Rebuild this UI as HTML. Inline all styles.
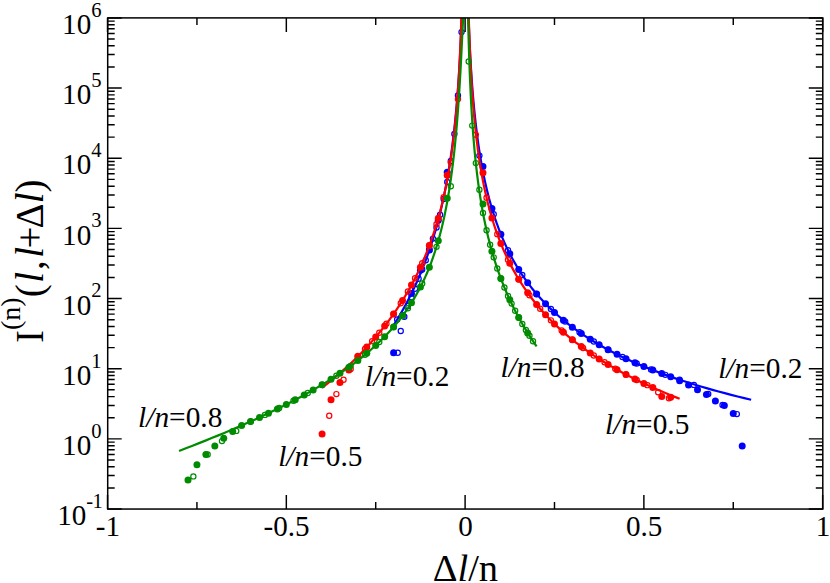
<!DOCTYPE html>
<html><head><meta charset="utf-8"><title>plot</title>
<style>
html,body{margin:0;padding:0;background:#fff;}
body{width:830px;height:583px;overflow:hidden;}
svg{display:block;}
text{font-family:"Liberation Serif",serif;fill:#000;}
</style></head><body>
<svg width="830" height="583" viewBox="0 0 830 583">
<rect x="0" y="0" width="830" height="583" fill="#fff"/>
<defs><clipPath id="cp"><rect x="107.70" y="17.90" width="715.10" height="491.15"/></clipPath></defs>
<g clip-path="url(#cp)">
<g><circle cx="393.59" cy="352.80" r="3.50" fill="#0000ff"/>
<circle cx="402.53" cy="315.50" r="3.50" fill="#0000ff"/>
<circle cx="411.47" cy="293.48" r="3.50" fill="#0000ff"/>
<circle cx="420.41" cy="270.30" r="3.50" fill="#0000ff"/>
<circle cx="429.35" cy="250.12" r="3.50" fill="#0000ff"/>
<circle cx="438.28" cy="220.20" r="3.50" fill="#0000ff"/>
<circle cx="447.22" cy="172.20" r="3.50" fill="#0000ff"/>
<circle cx="482.98" cy="166.60" r="3.50" fill="#0000ff"/>
<circle cx="491.92" cy="208.51" r="3.50" fill="#0000ff"/>
<circle cx="500.86" cy="234.16" r="3.50" fill="#0000ff"/>
<circle cx="509.79" cy="253.75" r="3.50" fill="#0000ff"/>
<circle cx="518.73" cy="269.53" r="3.50" fill="#0000ff"/>
<circle cx="527.67" cy="282.68" r="3.50" fill="#0000ff"/>
<circle cx="536.61" cy="293.93" r="3.50" fill="#0000ff"/>
<circle cx="545.55" cy="303.73" r="3.50" fill="#0000ff"/>
<circle cx="554.49" cy="312.40" r="3.50" fill="#0000ff"/>
<circle cx="563.43" cy="320.15" r="3.50" fill="#0000ff"/>
<circle cx="572.37" cy="327.14" r="3.50" fill="#0000ff"/>
<circle cx="581.30" cy="333.51" r="3.50" fill="#0000ff"/>
<circle cx="590.24" cy="339.34" r="3.50" fill="#0000ff"/>
<circle cx="599.18" cy="344.72" r="3.50" fill="#0000ff"/>
<circle cx="608.12" cy="349.70" r="3.50" fill="#0000ff"/>
<circle cx="617.06" cy="354.33" r="3.50" fill="#0000ff"/>
<circle cx="626.00" cy="358.66" r="3.50" fill="#0000ff"/>
<circle cx="634.94" cy="362.71" r="3.50" fill="#0000ff"/>
<circle cx="643.88" cy="366.53" r="3.50" fill="#0000ff"/>
<circle cx="652.81" cy="370.12" r="3.50" fill="#0000ff"/>
<circle cx="661.75" cy="373.52" r="3.50" fill="#0000ff"/>
<circle cx="670.69" cy="376.74" r="3.50" fill="#0000ff"/>
<circle cx="679.63" cy="380.80" r="3.50" fill="#0000ff"/>
<circle cx="688.57" cy="384.90" r="3.50" fill="#0000ff"/>
<circle cx="697.51" cy="389.80" r="3.50" fill="#0000ff"/>
<circle cx="706.45" cy="394.60" r="3.50" fill="#0000ff"/>
<circle cx="715.38" cy="401.10" r="3.50" fill="#0000ff"/>
<circle cx="724.32" cy="405.50" r="3.50" fill="#0000ff"/>
<circle cx="733.26" cy="413.50" r="3.50" fill="#0000ff"/>
<circle cx="742.20" cy="446.00" r="3.50" fill="#0000ff"/>
<circle cx="397.17" cy="319.49" r="2.60" fill="none" stroke="#0000ff" stroke-width="1.2"/>
<circle cx="397.70" cy="352.80" r="2.60" fill="none" stroke="#0000ff" stroke-width="1.2"/>
<circle cx="400.74" cy="331.00" r="2.60" fill="none" stroke="#0000ff" stroke-width="1.2"/>
<circle cx="404.32" cy="316.80" r="2.60" fill="none" stroke="#0000ff" stroke-width="1.2"/>
<circle cx="407.89" cy="306.00" r="2.60" fill="none" stroke="#0000ff" stroke-width="1.2"/>
<circle cx="411.47" cy="297.30" r="2.60" fill="none" stroke="#0000ff" stroke-width="1.2"/>
<circle cx="415.04" cy="288.70" r="2.60" fill="none" stroke="#0000ff" stroke-width="1.2"/>
<circle cx="418.62" cy="278.70" r="2.60" fill="none" stroke="#0000ff" stroke-width="1.2"/>
<circle cx="422.19" cy="269.50" r="2.60" fill="none" stroke="#0000ff" stroke-width="1.2"/>
<circle cx="425.77" cy="260.20" r="2.60" fill="none" stroke="#0000ff" stroke-width="1.2"/>
<circle cx="429.35" cy="250.00" r="2.60" fill="none" stroke="#0000ff" stroke-width="1.2"/>
<circle cx="432.92" cy="238.60" r="2.60" fill="none" stroke="#0000ff" stroke-width="1.2"/>
<circle cx="436.50" cy="227.50" r="2.60" fill="none" stroke="#0000ff" stroke-width="1.2"/>
<circle cx="440.07" cy="214.70" r="2.60" fill="none" stroke="#0000ff" stroke-width="1.2"/>
<circle cx="443.65" cy="199.00" r="2.60" fill="none" stroke="#0000ff" stroke-width="1.2"/>
<circle cx="447.22" cy="182.00" r="2.60" fill="none" stroke="#0000ff" stroke-width="1.2"/>
<circle cx="450.80" cy="161.00" r="2.60" fill="none" stroke="#0000ff" stroke-width="1.2"/>
<circle cx="454.37" cy="133.90" r="2.60" fill="none" stroke="#0000ff" stroke-width="1.2"/>
<circle cx="457.95" cy="95.50" r="2.60" fill="none" stroke="#0000ff" stroke-width="1.2"/>
<circle cx="461.52" cy="32.10" r="2.60" fill="none" stroke="#0000ff" stroke-width="1.2"/>
<circle cx="479.40" cy="155.60" r="2.60" fill="none" stroke="#0000ff" stroke-width="1.2"/>
<circle cx="493.70" cy="214.30" r="2.60" fill="none" stroke="#0000ff" stroke-width="1.2"/>
<circle cx="508.01" cy="250.19" r="2.60" fill="none" stroke="#0000ff" stroke-width="1.2"/>
<circle cx="522.31" cy="275.06" r="2.60" fill="none" stroke="#0000ff" stroke-width="1.2"/>
<circle cx="536.61" cy="293.93" r="2.60" fill="none" stroke="#0000ff" stroke-width="1.2"/>
<circle cx="550.91" cy="309.05" r="2.60" fill="none" stroke="#0000ff" stroke-width="1.2"/>
<circle cx="565.21" cy="321.60" r="2.60" fill="none" stroke="#0000ff" stroke-width="1.2"/>
<circle cx="579.52" cy="332.28" r="2.60" fill="none" stroke="#0000ff" stroke-width="1.2"/>
<circle cx="593.82" cy="341.55" r="2.60" fill="none" stroke="#0000ff" stroke-width="1.2"/>
<circle cx="608.12" cy="349.70" r="2.60" fill="none" stroke="#0000ff" stroke-width="1.2"/>
<circle cx="622.42" cy="356.96" r="2.60" fill="none" stroke="#0000ff" stroke-width="1.2"/>
<circle cx="636.72" cy="363.50" r="2.60" fill="none" stroke="#0000ff" stroke-width="1.2"/>
<circle cx="651.03" cy="369.42" r="2.60" fill="none" stroke="#0000ff" stroke-width="1.2"/>
<circle cx="665.33" cy="374.83" r="2.60" fill="none" stroke="#0000ff" stroke-width="1.2"/>
<circle cx="679.63" cy="379.79" r="2.60" fill="none" stroke="#0000ff" stroke-width="1.2"/>
<circle cx="693.93" cy="384.90" r="2.60" fill="none" stroke="#0000ff" stroke-width="1.2"/>
<circle cx="708.23" cy="393.90" r="2.60" fill="none" stroke="#0000ff" stroke-width="1.2"/>
<circle cx="722.54" cy="404.90" r="2.60" fill="none" stroke="#0000ff" stroke-width="1.2"/>
<circle cx="736.84" cy="414.10" r="2.60" fill="none" stroke="#0000ff" stroke-width="1.2"/>
<path d="M393.59,325.21 L394.86,323.22 L396.10,321.22 L397.32,319.23 L398.52,317.25 L399.70,315.27 L400.86,313.29 L402.00,311.31 L403.11,309.34 L404.21,307.37 L405.29,305.41 L406.35,303.44 L407.39,301.48 L408.41,299.53 L409.41,297.58 L410.40,295.63 L411.37,293.68 L412.32,291.74 L413.25,289.80 L414.17,287.86 L415.07,285.93 L415.96,284.00 L416.83,282.07 L417.68,280.15 L418.52,278.23 L419.35,276.31 L420.16,274.39 L420.95,272.48 L421.73,270.57 L422.50,268.66 L423.26,266.76 L424.00,264.86 L424.72,262.96 L425.44,261.07 L426.14,259.17 L426.83,257.28 L427.51,255.40 L428.17,253.51 L428.83,251.63 L429.47,249.75 L430.10,247.88 L430.72,246.00 L431.33,244.13 L431.93,242.26 L432.51,240.40 L433.09,238.53 L433.66,236.67 L434.21,234.81 L434.76,232.96 L435.30,231.10 L435.83,229.25 L436.34,227.40 L436.85,225.56 L437.35,223.71 L437.85,221.87 L438.33,220.03 L438.80,218.19 L439.27,216.36 L439.72,214.53 L440.17,212.70 L440.62,210.87 L441.05,209.04 L441.47,207.22 L441.89,205.39 L442.30,203.57 L442.71,201.76 L443.10,199.94 L443.49,198.13 L443.88,196.31 L444.25,194.50 L444.62,192.70 L444.98,190.89 L445.34,189.09 L445.69,187.28 L446.03,185.48 L446.37,183.68 L446.70,181.89 L447.03,180.09 L447.35,178.30 L447.66,176.51 L447.97,174.72 L448.27,172.93 L448.57,171.14 L448.86,169.36 L449.15,167.57 L449.43,165.79 L449.71,164.01 L449.98,162.23 L450.25,160.45 L450.51,158.68 L450.77,156.90 L451.03,155.13 L451.28,153.36 L451.52,151.59 L451.76,149.82 L452.00,148.05 L452.23,146.29 L452.46,144.52 L452.68,142.76 L452.90,141.00 L453.12,139.24 L453.33,137.48 L453.54,135.72 L453.74,133.96 L453.94,132.21 L454.14,130.45 L454.33,128.70 L454.53,126.95 L454.71,125.19 L454.90,123.44 L455.08,121.69 L455.25,119.94 L455.43,118.20 L455.60,116.45 L455.77,114.70 L455.93,112.96 L456.10,111.22 L456.25,109.47 L456.41,107.73 L456.57,105.99 L456.72,104.25 L456.86,102.51 L457.01,100.77 L457.15,99.03 L457.29,97.29 L457.43,95.55 L457.57,93.82 L457.70,92.08 L457.83,90.35 L457.96,88.61 L458.09,86.88 L458.21,85.14 L458.33,83.41 L458.45,81.68 L458.57,79.94 L458.69,78.21 L458.80,76.48 L458.91,74.75 L459.02,73.02 L459.13,71.29 L459.24,69.56 L459.34,67.83 L459.44,66.10 L459.54,64.37 L459.64,62.64 L459.74,60.91 L459.83,59.18 L459.92,57.45 L460.02,55.73 L460.11,54.00 L460.19,52.27 L460.28,50.54 L460.37,48.81 L460.45,47.08 L460.53,45.36 L460.61,43.63 L460.69,41.90 L460.77,40.17 L460.85,38.44 L460.92,36.72 L461.00,34.99 L461.07,33.26 L461.14,31.53 L461.21,29.80 L461.28,28.07 L461.35,26.34 L461.41,24.61 L461.48,22.88 L461.54,21.15 L461.61,19.42 L461.67,17.69 L461.73,15.95" fill="none" stroke="#0000ff" stroke-width="2.2"/>
<path d="M468.52,16.62 L468.60,18.93 L468.69,21.24 L468.77,23.55 L468.86,25.86 L468.96,28.17 L469.05,30.47 L469.15,32.78 L469.25,35.08 L469.35,37.38 L469.45,39.68 L469.56,41.98 L469.67,44.28 L469.78,46.58 L469.89,48.87 L470.01,51.17 L470.13,53.46 L470.26,55.75 L470.38,58.04 L470.51,60.33 L470.64,62.62 L470.78,64.91 L470.92,67.19 L471.06,69.48 L471.21,71.76 L471.36,74.04 L471.51,76.32 L471.67,78.60 L471.83,80.88 L471.99,83.16 L472.16,85.44 L472.33,87.71 L472.51,89.98 L472.69,92.26 L472.88,94.53 L473.07,96.80 L473.26,99.06 L473.46,101.33 L473.67,103.60 L473.88,105.86 L474.09,108.12 L474.31,110.38 L474.54,112.64 L474.77,114.90 L475.01,117.16 L475.25,119.42 L475.50,121.67 L475.75,123.92 L476.01,126.17 L476.28,128.42 L476.56,130.67 L476.84,132.92 L477.12,135.16 L477.42,137.40 L477.72,139.65 L478.03,141.89 L478.34,144.12 L478.67,146.36 L479.00,148.59 L479.34,150.83 L479.69,153.06 L480.05,155.29 L480.41,157.52 L480.79,159.74 L481.17,161.96 L481.57,164.19 L481.97,166.41 L482.38,168.62 L482.81,170.84 L483.24,173.05 L483.68,175.26 L484.14,177.47 L484.61,179.68 L485.08,181.89 L485.57,184.09 L486.07,186.29 L486.59,188.49 L487.11,190.68 L487.65,192.88 L488.20,195.07 L488.77,197.26 L489.35,199.44 L489.94,201.63 L490.55,203.81 L491.18,205.99 L491.81,208.17 L492.47,210.34 L493.14,212.51 L493.83,214.68 L494.53,216.84 L495.25,219.00 L495.99,221.16 L496.74,223.32 L497.52,225.47 L498.31,227.62 L499.13,229.77 L499.96,231.92 L500.81,234.06 L501.69,236.20 L502.58,238.33 L503.50,240.46 L504.44,242.59 L505.41,244.71 L506.39,246.84 L507.40,248.95 L508.44,251.07 L509.50,253.18 L510.59,255.28 L511.70,257.39 L512.84,259.49 L514.01,261.58 L515.21,263.67 L516.44,265.76 L517.69,267.85 L518.98,269.93 L520.30,272.00 L521.65,274.07 L523.04,276.14 L524.46,278.20 L525.91,280.26 L527.40,282.31 L528.93,284.36 L530.49,286.41 L532.09,288.45 L533.73,290.49 L535.41,292.52 L537.13,294.54 L538.90,296.56 L540.70,298.58 L542.56,300.59 L544.45,302.60 L546.39,304.60 L548.39,306.60 L550.43,308.59 L552.51,310.57 L554.66,312.55 L556.85,314.53 L559.10,316.50 L561.40,318.46 L563.76,320.42 L566.17,322.37 L568.65,324.31 L571.18,326.25 L573.78,328.19 L576.44,330.12 L579.17,332.04 L581.96,333.96 L584.82,335.87 L587.75,337.77 L590.76,339.67 L593.83,341.56 L596.99,343.44 L600.22,345.32 L603.53,347.19 L606.92,349.05 L610.39,350.91 L613.95,352.76 L617.59,354.60 L621.33,356.43 L625.15,358.26 L629.07,360.08 L633.09,361.90 L637.20,363.70 L641.41,365.50 L645.73,367.29 L650.16,369.07 L654.69,370.85 L659.33,372.62 L664.09,374.37 L668.96,376.13 L673.95,377.87 L679.07,379.60 L684.30,381.33 L689.67,383.05 L695.17,384.75 L700.81,386.45 L706.58,388.15 L712.49,389.83 L718.55,391.50 L724.76,393.17 L731.11,394.82 L737.63,396.47 L744.30,398.11 L751.14,399.73" fill="none" stroke="#0000ff" stroke-width="2.2"/></g>
<g><circle cx="322.08" cy="434.00" r="3.50" fill="#ff0000"/>
<circle cx="331.02" cy="399.70" r="3.50" fill="#ff0000"/>
<circle cx="339.96" cy="382.40" r="3.50" fill="#ff0000"/>
<circle cx="348.90" cy="370.00" r="3.50" fill="#ff0000"/>
<circle cx="357.84" cy="356.37" r="3.50" fill="#ff0000"/>
<circle cx="366.77" cy="347.09" r="3.50" fill="#ff0000"/>
<circle cx="375.71" cy="337.04" r="3.50" fill="#ff0000"/>
<circle cx="384.65" cy="326.07" r="3.50" fill="#ff0000"/>
<circle cx="393.59" cy="313.96" r="3.50" fill="#ff0000"/>
<circle cx="402.53" cy="300.42" r="3.50" fill="#ff0000"/>
<circle cx="411.47" cy="285.03" r="3.50" fill="#ff0000"/>
<circle cx="420.41" cy="267.13" r="3.50" fill="#ff0000"/>
<circle cx="429.35" cy="245.57" r="3.50" fill="#ff0000"/>
<circle cx="438.28" cy="218.20" r="3.50" fill="#ff0000"/>
<circle cx="447.22" cy="175.30" r="3.50" fill="#ff0000"/>
<circle cx="482.98" cy="172.80" r="3.50" fill="#ff0000"/>
<circle cx="491.92" cy="217.88" r="3.50" fill="#ff0000"/>
<circle cx="500.86" cy="243.51" r="3.50" fill="#ff0000"/>
<circle cx="509.79" cy="263.23" r="3.50" fill="#ff0000"/>
<circle cx="518.73" cy="279.26" r="3.50" fill="#ff0000"/>
<circle cx="527.67" cy="292.77" r="3.50" fill="#ff0000"/>
<circle cx="536.61" cy="304.44" r="3.50" fill="#ff0000"/>
<circle cx="545.55" cy="314.72" r="3.50" fill="#ff0000"/>
<circle cx="554.49" cy="323.89" r="3.50" fill="#ff0000"/>
<circle cx="563.43" cy="332.16" r="3.50" fill="#ff0000"/>
<circle cx="572.37" cy="339.70" r="3.50" fill="#ff0000"/>
<circle cx="581.30" cy="346.62" r="3.50" fill="#ff0000"/>
<circle cx="590.24" cy="353.01" r="3.50" fill="#ff0000"/>
<circle cx="599.18" cy="358.94" r="3.50" fill="#ff0000"/>
<circle cx="608.12" cy="364.47" r="3.50" fill="#ff0000"/>
<circle cx="617.06" cy="369.65" r="3.50" fill="#ff0000"/>
<circle cx="626.00" cy="374.53" r="3.50" fill="#ff0000"/>
<circle cx="634.94" cy="379.12" r="3.50" fill="#ff0000"/>
<circle cx="643.88" cy="383.46" r="3.50" fill="#ff0000"/>
<circle cx="652.81" cy="387.58" r="3.50" fill="#ff0000"/>
<circle cx="661.75" cy="396.50" r="3.50" fill="#ff0000"/>
<circle cx="670.69" cy="397.30" r="3.50" fill="#ff0000"/>
<circle cx="329.23" cy="415.70" r="2.60" fill="none" stroke="#ff0000" stroke-width="1.2"/>
<circle cx="336.38" cy="394.10" r="2.60" fill="none" stroke="#ff0000" stroke-width="1.2"/>
<circle cx="343.53" cy="379.70" r="2.60" fill="none" stroke="#ff0000" stroke-width="1.2"/>
<circle cx="350.68" cy="369.00" r="2.60" fill="none" stroke="#ff0000" stroke-width="1.2"/>
<circle cx="357.84" cy="356.37" r="2.60" fill="none" stroke="#ff0000" stroke-width="1.2"/>
<circle cx="364.99" cy="349.00" r="2.60" fill="none" stroke="#ff0000" stroke-width="1.2"/>
<circle cx="372.14" cy="341.16" r="2.60" fill="none" stroke="#ff0000" stroke-width="1.2"/>
<circle cx="379.29" cy="332.77" r="2.60" fill="none" stroke="#ff0000" stroke-width="1.2"/>
<circle cx="386.44" cy="323.74" r="2.60" fill="none" stroke="#ff0000" stroke-width="1.2"/>
<circle cx="393.59" cy="313.96" r="2.60" fill="none" stroke="#ff0000" stroke-width="1.2"/>
<circle cx="400.74" cy="303.26" r="2.60" fill="none" stroke="#ff0000" stroke-width="1.2"/>
<circle cx="407.89" cy="291.45" r="2.60" fill="none" stroke="#ff0000" stroke-width="1.2"/>
<circle cx="415.04" cy="278.22" r="2.60" fill="none" stroke="#ff0000" stroke-width="1.2"/>
<circle cx="422.19" cy="263.16" r="2.60" fill="none" stroke="#ff0000" stroke-width="1.2"/>
<circle cx="429.35" cy="245.57" r="2.60" fill="none" stroke="#ff0000" stroke-width="1.2"/>
<circle cx="436.50" cy="224.31" r="2.60" fill="none" stroke="#ff0000" stroke-width="1.2"/>
<circle cx="443.65" cy="197.14" r="2.60" fill="none" stroke="#ff0000" stroke-width="1.2"/>
<circle cx="450.80" cy="162.50" r="2.60" fill="none" stroke="#ff0000" stroke-width="1.2"/>
<circle cx="457.95" cy="99.10" r="2.60" fill="none" stroke="#ff0000" stroke-width="1.2"/>
<circle cx="475.83" cy="134.80" r="2.60" fill="none" stroke="#ff0000" stroke-width="1.2"/>
<circle cx="486.55" cy="197.75" r="2.60" fill="none" stroke="#ff0000" stroke-width="1.2"/>
<circle cx="497.28" cy="234.16" r="2.60" fill="none" stroke="#ff0000" stroke-width="1.2"/>
<circle cx="508.01" cy="259.63" r="2.60" fill="none" stroke="#ff0000" stroke-width="1.2"/>
<circle cx="518.73" cy="279.26" r="2.60" fill="none" stroke="#ff0000" stroke-width="1.2"/>
<circle cx="529.46" cy="295.23" r="2.60" fill="none" stroke="#ff0000" stroke-width="1.2"/>
<circle cx="540.19" cy="308.70" r="2.60" fill="none" stroke="#ff0000" stroke-width="1.2"/>
<circle cx="550.91" cy="320.34" r="2.60" fill="none" stroke="#ff0000" stroke-width="1.2"/>
<circle cx="561.64" cy="330.57" r="2.60" fill="none" stroke="#ff0000" stroke-width="1.2"/>
<circle cx="572.37" cy="339.70" r="2.60" fill="none" stroke="#ff0000" stroke-width="1.2"/>
<circle cx="583.09" cy="347.94" r="2.60" fill="none" stroke="#ff0000" stroke-width="1.2"/>
<circle cx="593.82" cy="355.43" r="2.60" fill="none" stroke="#ff0000" stroke-width="1.2"/>
<circle cx="604.54" cy="362.30" r="2.60" fill="none" stroke="#ff0000" stroke-width="1.2"/>
<circle cx="615.27" cy="368.64" r="2.60" fill="none" stroke="#ff0000" stroke-width="1.2"/>
<circle cx="626.00" cy="374.53" r="2.60" fill="none" stroke="#ff0000" stroke-width="1.2"/>
<circle cx="636.72" cy="380.01" r="2.60" fill="none" stroke="#ff0000" stroke-width="1.2"/>
<circle cx="647.45" cy="385.13" r="2.60" fill="none" stroke="#ff0000" stroke-width="1.2"/>
<circle cx="658.18" cy="392.20" r="2.60" fill="none" stroke="#ff0000" stroke-width="1.2"/>
<circle cx="668.90" cy="398.20" r="2.60" fill="none" stroke="#ff0000" stroke-width="1.2"/>
<path d="M322.08,387.78 L325.06,385.45 L327.97,383.12 L330.82,380.80 L333.62,378.48 L336.35,376.17 L339.03,373.87 L341.66,371.57 L344.22,369.28 L346.74,366.99 L349.20,364.71 L351.61,362.44 L353.98,360.17 L356.29,357.91 L358.55,355.65 L360.77,353.40 L362.94,351.16 L365.07,348.92 L367.15,346.69 L369.19,344.46 L371.18,342.24 L373.14,340.03 L375.05,337.82 L376.92,335.61 L378.76,333.41 L380.56,331.22 L382.31,329.03 L384.04,326.85 L385.72,324.68 L387.38,322.51 L388.99,320.34 L390.58,318.18 L392.13,316.03 L393.65,313.88 L395.13,311.73 L396.59,309.59 L398.01,307.46 L399.41,305.33 L400.78,303.20 L402.12,301.08 L403.43,298.97 L404.71,296.86 L405.97,294.75 L407.20,292.65 L408.40,290.56 L409.58,288.46 L410.74,286.38 L411.87,284.29 L412.98,282.21 L414.06,280.14 L415.12,278.07 L416.16,276.00 L417.18,273.94 L418.18,271.88 L419.15,269.82 L420.11,267.77 L421.05,265.72 L421.96,263.68 L422.86,261.64 L423.74,259.60 L424.60,257.57 L425.44,255.53 L426.27,253.51 L427.08,251.48 L427.87,249.46 L428.64,247.44 L429.40,245.42 L430.14,243.41 L430.87,241.40 L431.58,239.39 L432.28,237.38 L432.96,235.38 L433.63,233.38 L434.29,231.37 L434.93,229.38 L435.56,227.38 L436.17,225.39 L436.77,223.39 L437.36,221.40 L437.94,219.41 L438.50,217.42 L439.06,215.43 L439.60,213.45 L440.13,211.46 L440.65,209.48 L441.16,207.49 L441.66,205.51 L442.15,203.52 L442.62,201.54 L443.09,199.56 L443.55,197.58 L444.00,195.59 L444.44,193.61 L444.87,191.63 L445.29,189.64 L445.70,187.66 L446.10,185.68 L446.50,183.69 L446.89,181.70 L447.26,179.72 L447.64,177.73 L448.00,175.74 L448.35,173.74 L448.70,171.75 L449.04,169.76 L449.38,167.76 L449.71,165.76 L450.03,163.76 L450.34,161.75 L450.65,159.75 L450.95,157.74 L451.24,155.73 L451.53,153.71 L451.81,151.69 L452.09,149.67 L452.36,147.65 L452.63,145.62 L452.88,143.59 L453.14,141.55 L453.39,139.51 L453.63,137.47 L453.87,135.42 L454.10,133.37 L454.33,131.31 L454.56,129.24 L454.78,127.18 L454.99,125.10 L455.20,123.02 L455.41,120.94 L455.61,118.85 L455.81,116.75 L456.00,114.65 L456.19,112.54 L456.37,110.43 L456.56,108.31 L456.73,106.18 L456.91,104.04 L457.08,101.90 L457.25,99.75 L457.41,97.59 L457.57,95.43 L457.73,93.25 L457.88,91.07 L458.03,88.88 L458.18,86.68 L458.32,84.48 L458.46,82.26 L458.60,80.04 L458.73,77.80 L458.87,75.56 L459.00,73.30 L459.12,71.04 L459.25,68.77 L459.37,66.48 L459.49,64.19 L459.61,61.88 L459.72,59.57 L459.83,57.24 L459.94,54.90 L460.05,52.55 L460.15,50.19 L460.26,47.81 L460.36,45.43 L460.46,43.03 L460.55,40.62 L460.65,38.19 L460.74,35.75 L460.83,33.30 L460.92,30.84 L461.01,28.36 L461.09,25.87 L461.18,23.36 L461.26,20.84 L461.34,18.30 L461.42,15.75" fill="none" stroke="#ff0000" stroke-width="2.2"/>
<path d="M468.75,16.37 L468.84,19.16 L468.93,21.93 L469.01,24.68 L469.10,27.41 L469.20,30.13 L469.29,32.84 L469.39,35.52 L469.49,38.19 L469.59,40.85 L469.69,43.49 L469.80,46.11 L469.91,48.73 L470.02,51.32 L470.13,53.90 L470.25,56.47 L470.37,59.03 L470.49,61.57 L470.62,64.10 L470.74,66.61 L470.87,69.12 L471.01,71.60 L471.14,74.08 L471.28,76.55 L471.43,79.00 L471.57,81.44 L471.72,83.87 L471.88,86.29 L472.03,88.70 L472.19,91.10 L472.36,93.49 L472.53,95.86 L472.70,98.23 L472.87,100.59 L473.05,102.93 L473.24,105.27 L473.43,107.60 L473.62,109.91 L473.82,112.22 L474.02,114.52 L474.23,116.82 L474.44,119.10 L474.65,121.37 L474.87,123.64 L475.10,125.90 L475.33,128.15 L475.57,130.39 L475.81,132.63 L476.06,134.86 L476.31,137.08 L476.57,139.29 L476.84,141.50 L477.11,143.70 L477.39,145.90 L477.67,148.09 L477.96,150.27 L478.26,152.45 L478.56,154.62 L478.88,156.78 L479.19,158.94 L479.52,161.09 L479.85,163.24 L480.20,165.39 L480.55,167.52 L480.90,169.66 L481.27,171.79 L481.64,173.91 L482.03,176.03 L482.42,178.14 L482.82,180.25 L483.23,182.36 L483.65,184.46 L484.08,186.56 L484.52,188.66 L484.97,190.75 L485.42,192.84 L485.90,194.92 L486.38,197.00 L486.87,199.08 L487.37,201.15 L487.89,203.23 L488.42,205.29 L488.96,207.36 L489.51,209.42 L490.07,211.48 L490.65,213.54 L491.24,215.60 L491.85,217.65 L492.47,219.70 L493.10,221.75 L493.75,223.79 L494.41,225.84 L495.09,227.88 L495.78,229.92 L496.49,231.96 L497.22,233.99 L497.96,236.03 L498.72,238.06 L499.50,240.09 L500.30,242.12 L501.11,244.15 L501.94,246.17 L502.80,248.20 L503.67,250.22 L504.56,252.25 L505.48,254.27 L506.41,256.29 L507.37,258.31 L508.34,260.32 L509.35,262.34 L510.37,264.36 L511.42,266.37 L512.49,268.38 L513.59,270.40 L514.71,272.41 L515.86,274.42 L517.03,276.43 L518.23,278.44 L519.46,280.44 L520.72,282.45 L522.01,284.46 L523.32,286.46 L524.67,288.47 L526.05,290.47 L527.46,292.48 L528.90,294.48 L530.38,296.48 L531.89,298.48 L533.44,300.48 L535.02,302.48 L536.64,304.48 L538.29,306.47 L539.99,308.47 L541.72,310.47 L543.49,312.46 L545.31,314.46 L547.16,316.45 L549.06,318.44 L551.01,320.43 L553.00,322.42 L555.03,324.41 L557.11,326.40 L559.24,328.39 L561.42,330.37 L563.65,332.36 L565.93,334.34 L568.26,336.33 L570.65,338.31 L573.09,340.29 L575.59,342.27 L578.15,344.24 L580.77,346.22 L583.44,348.19 L586.18,350.17 L588.98,352.14 L591.85,354.11 L594.78,356.08 L597.78,358.04 L600.86,360.01 L604.00,361.97 L607.21,363.93 L610.50,365.89 L613.87,367.84 L617.31,369.80 L620.83,371.75 L624.44,373.70 L628.12,375.64 L631.90,377.59 L635.76,379.53 L639.71,381.47 L643.75,383.40 L647.88,385.33 L652.11,387.26 L656.44,389.19 L660.87,391.11 L665.40,393.03 L670.03,394.95 L674.78,396.86 L679.63,398.77" fill="none" stroke="#ff0000" stroke-width="2.2"/></g>
<g><circle cx="188.00" cy="479.90" r="3.50" fill="#008b00"/>
<circle cx="196.94" cy="464.80" r="3.50" fill="#008b00"/>
<circle cx="205.88" cy="454.50" r="3.50" fill="#008b00"/>
<circle cx="214.82" cy="445.90" r="3.50" fill="#008b00"/>
<circle cx="223.75" cy="438.30" r="3.50" fill="#008b00"/>
<circle cx="232.69" cy="431.50" r="3.50" fill="#008b00"/>
<circle cx="241.63" cy="425.45" r="3.50" fill="#008b00"/>
<circle cx="250.57" cy="421.49" r="3.50" fill="#008b00"/>
<circle cx="259.51" cy="417.41" r="3.50" fill="#008b00"/>
<circle cx="268.45" cy="413.22" r="3.50" fill="#008b00"/>
<circle cx="277.39" cy="408.90" r="3.50" fill="#008b00"/>
<circle cx="286.33" cy="404.43" r="3.50" fill="#008b00"/>
<circle cx="295.26" cy="399.80" r="3.50" fill="#008b00"/>
<circle cx="304.20" cy="394.99" r="3.50" fill="#008b00"/>
<circle cx="313.14" cy="389.97" r="3.50" fill="#008b00"/>
<circle cx="322.08" cy="384.72" r="3.50" fill="#008b00"/>
<circle cx="331.02" cy="379.19" r="3.50" fill="#008b00"/>
<circle cx="339.96" cy="373.34" r="3.50" fill="#008b00"/>
<circle cx="348.90" cy="367.13" r="3.50" fill="#008b00"/>
<circle cx="357.84" cy="360.46" r="3.50" fill="#008b00"/>
<circle cx="366.77" cy="353.26" r="3.50" fill="#008b00"/>
<circle cx="375.71" cy="345.40" r="3.50" fill="#008b00"/>
<circle cx="384.65" cy="336.71" r="3.50" fill="#008b00"/>
<circle cx="393.59" cy="326.97" r="3.50" fill="#008b00"/>
<circle cx="402.53" cy="315.84" r="3.50" fill="#008b00"/>
<circle cx="411.47" cy="302.82" r="3.50" fill="#008b00"/>
<circle cx="420.41" cy="287.10" r="3.50" fill="#008b00"/>
<circle cx="429.35" cy="267.31" r="3.50" fill="#008b00"/>
<circle cx="438.28" cy="240.81" r="3.50" fill="#008b00"/>
<circle cx="447.22" cy="198.30" r="3.50" fill="#008b00"/>
<circle cx="482.98" cy="204.10" r="3.50" fill="#008b00"/>
<circle cx="491.92" cy="251.28" r="3.50" fill="#008b00"/>
<circle cx="500.86" cy="278.46" r="3.50" fill="#008b00"/>
<circle cx="509.79" cy="299.81" r="3.50" fill="#008b00"/>
<circle cx="518.73" cy="317.57" r="3.50" fill="#008b00"/>
<circle cx="527.67" cy="332.88" r="3.50" fill="#008b00"/>
<circle cx="193.36" cy="476.40" r="2.60" fill="none" stroke="#008b00" stroke-width="1.2"/>
<circle cx="207.66" cy="454.50" r="2.60" fill="none" stroke="#008b00" stroke-width="1.2"/>
<circle cx="221.97" cy="441.10" r="2.60" fill="none" stroke="#008b00" stroke-width="1.2"/>
<circle cx="236.27" cy="430.90" r="2.60" fill="none" stroke="#008b00" stroke-width="1.2"/>
<circle cx="250.57" cy="421.49" r="2.60" fill="none" stroke="#008b00" stroke-width="1.2"/>
<circle cx="264.87" cy="414.91" r="2.60" fill="none" stroke="#008b00" stroke-width="1.2"/>
<circle cx="279.17" cy="408.01" r="2.60" fill="none" stroke="#008b00" stroke-width="1.2"/>
<circle cx="293.48" cy="400.74" r="2.60" fill="none" stroke="#008b00" stroke-width="1.2"/>
<circle cx="307.78" cy="393.01" r="2.60" fill="none" stroke="#008b00" stroke-width="1.2"/>
<circle cx="322.08" cy="384.72" r="2.60" fill="none" stroke="#008b00" stroke-width="1.2"/>
<circle cx="336.38" cy="375.72" r="2.60" fill="none" stroke="#008b00" stroke-width="1.2"/>
<circle cx="350.68" cy="365.83" r="2.60" fill="none" stroke="#008b00" stroke-width="1.2"/>
<circle cx="364.99" cy="354.75" r="2.60" fill="none" stroke="#008b00" stroke-width="1.2"/>
<circle cx="379.29" cy="342.04" r="2.60" fill="none" stroke="#008b00" stroke-width="1.2"/>
<circle cx="393.59" cy="326.97" r="2.60" fill="none" stroke="#008b00" stroke-width="1.2"/>
<circle cx="407.89" cy="308.30" r="2.60" fill="none" stroke="#008b00" stroke-width="1.2"/>
<circle cx="422.19" cy="283.53" r="2.60" fill="none" stroke="#008b00" stroke-width="1.2"/>
<circle cx="436.50" cy="246.85" r="2.60" fill="none" stroke="#008b00" stroke-width="1.2"/>
<circle cx="450.80" cy="186.20" r="2.60" fill="none" stroke="#008b00" stroke-width="1.2"/>
<circle cx="468.68" cy="61.50" r="2.60" fill="none" stroke="#008b00" stroke-width="1.2"/>
<circle cx="472.25" cy="125.60" r="2.60" fill="none" stroke="#008b00" stroke-width="1.2"/>
<circle cx="475.83" cy="163.10" r="2.60" fill="none" stroke="#008b00" stroke-width="1.2"/>
<circle cx="479.40" cy="189.80" r="2.60" fill="none" stroke="#008b00" stroke-width="1.2"/>
<circle cx="482.98" cy="212.96" r="2.60" fill="none" stroke="#008b00" stroke-width="1.2"/>
<circle cx="486.55" cy="230.25" r="2.60" fill="none" stroke="#008b00" stroke-width="1.2"/>
<circle cx="490.13" cy="244.78" r="2.60" fill="none" stroke="#008b00" stroke-width="1.2"/>
<circle cx="493.70" cy="257.36" r="2.60" fill="none" stroke="#008b00" stroke-width="1.2"/>
<circle cx="497.28" cy="268.48" r="2.60" fill="none" stroke="#008b00" stroke-width="1.2"/>
<circle cx="500.86" cy="278.46" r="2.60" fill="none" stroke="#008b00" stroke-width="1.2"/>
<circle cx="504.43" cy="287.54" r="2.60" fill="none" stroke="#008b00" stroke-width="1.2"/>
<circle cx="508.01" cy="295.88" r="2.60" fill="none" stroke="#008b00" stroke-width="1.2"/>
<circle cx="511.58" cy="303.61" r="2.60" fill="none" stroke="#008b00" stroke-width="1.2"/>
<circle cx="515.16" cy="310.81" r="2.60" fill="none" stroke="#008b00" stroke-width="1.2"/>
<circle cx="518.73" cy="317.57" r="2.60" fill="none" stroke="#008b00" stroke-width="1.2"/>
<circle cx="522.31" cy="323.95" r="2.60" fill="none" stroke="#008b00" stroke-width="1.2"/>
<circle cx="525.88" cy="329.98" r="2.60" fill="none" stroke="#008b00" stroke-width="1.2"/>
<circle cx="529.46" cy="335.72" r="2.60" fill="none" stroke="#008b00" stroke-width="1.2"/>
<circle cx="533.03" cy="341.19" r="2.60" fill="none" stroke="#008b00" stroke-width="1.2"/>
<path d="M179.06,450.91 L185.90,448.29 L192.57,445.70 L199.09,443.14 L205.44,440.61 L211.65,438.10 L217.71,435.62 L223.62,433.16 L229.39,430.73 L235.03,428.32 L240.53,425.94 L245.90,423.57 L251.13,421.23 L256.25,418.91 L261.24,416.61 L266.11,414.32 L270.87,412.06 L275.51,409.81 L280.04,407.58 L284.47,405.37 L288.79,403.17 L293.00,400.99 L297.11,398.82 L301.13,396.67 L305.05,394.52 L308.87,392.39 L312.61,390.28 L316.25,388.17 L319.81,386.07 L323.28,383.99 L326.67,381.91 L329.98,379.84 L333.21,377.79 L336.37,375.73 L339.44,373.69 L342.45,371.65 L345.38,369.62 L348.24,367.60 L351.03,365.58 L353.76,363.56 L356.42,361.55 L359.02,359.54 L361.55,357.54 L364.03,355.54 L366.44,353.54 L368.80,351.54 L371.10,349.54 L373.35,347.55 L375.54,345.55 L377.69,343.56 L379.77,341.57 L381.81,339.57 L383.81,337.58 L385.75,335.58 L387.64,333.58 L389.50,331.58 L391.30,329.58 L393.07,327.58 L394.79,325.57 L396.47,323.56 L398.11,321.54 L399.71,319.52 L401.27,317.50 L402.80,315.48 L404.29,313.44 L405.74,311.41 L407.16,309.37 L408.55,307.32 L409.90,305.27 L411.22,303.21 L412.51,301.15 L413.76,299.08 L414.99,297.00 L416.19,294.92 L417.36,292.83 L418.50,290.74 L419.61,288.64 L420.70,286.53 L421.76,284.41 L422.80,282.28 L423.81,280.15 L424.79,278.01 L425.76,275.87 L426.70,273.71 L427.62,271.55 L428.51,269.38 L429.39,267.20 L430.24,265.02 L431.07,262.82 L431.89,260.62 L432.68,258.41 L433.46,256.20 L434.21,253.97 L434.95,251.74 L435.67,249.50 L436.37,247.25 L437.06,244.99 L437.73,242.72 L438.39,240.45 L439.02,238.17 L439.65,235.88 L440.26,233.59 L440.85,231.29 L441.43,228.98 L442.00,226.66 L442.55,224.33 L443.09,222.00 L443.61,219.67 L444.13,217.32 L444.63,214.97 L445.12,212.61 L445.59,210.25 L446.06,207.88 L446.52,205.51 L446.96,203.13 L447.39,200.74 L447.82,198.35 L448.23,195.95 L448.63,193.55 L449.03,191.15 L449.41,188.74 L449.79,186.33 L450.15,183.91 L450.51,181.50 L450.86,179.07 L451.20,176.65 L451.53,174.22 L451.86,171.80 L452.17,169.37 L452.48,166.94 L452.78,164.50 L453.08,162.07 L453.36,159.64 L453.64,157.21 L453.92,154.78 L454.19,152.35 L454.45,149.92 L454.70,147.49 L454.95,145.07 L455.19,142.65 L455.43,140.23 L455.66,137.82 L455.89,135.41 L456.11,133.00 L456.32,130.60 L456.53,128.21 L456.74,125.82 L456.94,123.44 L457.13,121.07 L457.32,118.70 L457.51,116.35 L457.69,114.00 L457.87,111.66 L458.04,109.33 L458.21,107.01 L458.37,104.71 L458.53,102.41 L458.69,100.13 L458.84,97.86 L458.99,95.61 L459.14,93.37 L459.28,91.14 L459.42,88.93 L459.56,86.74 L459.69,84.56 L459.82,82.40 L459.94,80.26 L460.07,78.14 L460.19,76.04 L460.31,73.96 L460.42,71.90 L460.53,69.86 L460.64,67.85 L460.75,65.86 L460.85,63.89 L460.95,61.95 L461.05,60.04 L461.15,58.15 L461.24,56.29 L461.34,54.46 L461.43,52.66 L461.51,50.88 L461.60,49.14 L461.68,47.43 L461.76,45.76 L461.84,44.11 L461.92,42.50 L462.00,40.93 L462.07,39.39 L462.14,37.89 L462.22,36.43 L462.28,35.01 L462.35,33.63 L462.42,32.28 L462.48,30.98 L462.54,29.73 L462.61,28.51 L462.66,27.35 L462.72,26.22 L462.78,25.15 L462.84,24.12 L462.89,23.14 L462.94,22.21 L462.99,21.33 L463.04,20.51 L463.09,19.73 L463.14,19.02 L463.19,18.35 L463.23,17.74 L463.28,17.20 L463.32,16.70 L463.36,16.27 L463.41,15.90 L463.45,15.59 L463.49,15.35 L463.52,15.17 L463.56,15.05 L463.60,15.00 L463.63,15.02 L463.67,15.11" fill="none" stroke="#008b00" stroke-width="2.2"/>
<path d="M468.07,17.24 L468.13,19.59 L468.18,21.92 L468.24,24.24 L468.30,26.55 L468.35,28.85 L468.41,31.14 L468.47,33.42 L468.53,35.69 L468.59,37.95 L468.66,40.20 L468.72,42.44 L468.79,44.67 L468.85,46.89 L468.92,49.10 L468.99,51.30 L469.06,53.49 L469.13,55.67 L469.20,57.84 L469.28,60.00 L469.35,62.15 L469.43,64.29 L469.51,66.43 L469.59,68.55 L469.67,70.67 L469.75,72.77 L469.83,74.87 L469.92,76.96 L470.01,79.04 L470.09,81.12 L470.18,83.18 L470.28,85.24 L470.37,87.28 L470.46,89.32 L470.56,91.36 L470.66,93.38 L470.76,95.40 L470.86,97.40 L470.96,99.40 L471.07,101.40 L471.18,103.38 L471.29,105.36 L471.40,107.33 L471.51,109.30 L471.63,111.25 L471.75,113.20 L471.87,115.14 L471.99,117.08 L472.11,119.01 L472.24,120.93 L472.37,122.85 L472.50,124.76 L472.63,126.66 L472.77,128.56 L472.91,130.45 L473.05,132.33 L473.19,134.21 L473.34,136.08 L473.48,137.95 L473.63,139.81 L473.79,141.67 L473.95,143.52 L474.10,145.36 L474.27,147.20 L474.43,149.03 L474.60,150.86 L474.77,152.68 L474.95,154.50 L475.12,156.32 L475.30,158.12 L475.49,159.93 L475.67,161.73 L475.87,163.52 L476.06,165.31 L476.26,167.10 L476.46,168.88 L476.66,170.66 L476.87,172.43 L477.08,174.20 L477.30,175.96 L477.52,177.72 L477.74,179.48 L477.97,181.24 L478.20,182.99 L478.44,184.73 L478.68,186.48 L478.92,188.22 L479.17,189.95 L479.43,191.69 L479.69,193.42 L479.95,195.15 L480.22,196.87 L480.49,198.60 L480.77,200.31 L481.05,202.03 L481.34,203.75 L481.63,205.46 L481.93,207.17 L482.23,208.88 L482.54,210.58 L482.85,212.29 L483.17,213.99 L483.50,215.69 L483.83,217.39 L484.17,219.08 L484.51,220.78 L484.86,222.47 L485.22,224.16 L485.58,225.85 L485.95,227.54 L486.32,229.23 L486.71,230.92 L487.10,232.61 L487.49,234.29 L487.90,235.98 L488.31,237.66 L488.73,239.35 L489.15,241.03 L489.58,242.71 L490.03,244.39 L490.48,246.08 L490.93,247.76 L491.40,249.44 L491.87,251.12 L492.35,252.81 L492.85,254.49 L493.35,256.17 L493.86,257.86 L494.37,259.54 L494.90,261.22 L495.44,262.91 L495.99,264.60 L496.54,266.28 L497.11,267.97 L497.69,269.66 L498.27,271.35 L498.87,273.04 L499.48,274.74 L500.10,276.43 L500.73,278.13 L501.37,279.82 L502.03,281.52 L502.69,283.22 L503.37,284.93 L504.06,286.63 L504.76,288.34 L505.48,290.05 L506.20,291.76 L506.94,293.47 L507.70,295.19 L508.47,296.91 L509.25,298.63 L510.04,300.35 L510.85,302.08 L511.68,303.81 L512.52,305.54 L513.37,307.27 L514.24,309.01 L515.13,310.76 L516.03,312.50 L516.95,314.25 L517.88,316.00 L518.83,317.76 L519.80,319.52 L520.79,321.28 L521.79,323.05 L522.81,324.82 L523.85,326.59 L524.91,328.37 L525.99,330.16 L527.09,331.94 L528.20,333.74 L529.34,335.53 L530.50,337.34 L531.68,339.14 L532.88,340.95 L534.10,342.77 L535.34,344.59 L536.61,346.41" fill="none" stroke="#008b00" stroke-width="2.2"/></g>
</g>
<path d="M107.70,509.05 h14 M822.80,509.05 h-14 M107.70,487.93 h7 M822.80,487.93 h-7 M107.70,475.57 h7 M822.80,475.57 h-7 M107.70,466.81 h7 M822.80,466.81 h-7 M107.70,460.01 h7 M822.80,460.01 h-7 M107.70,454.45 h7 M822.80,454.45 h-7 M107.70,449.75 h7 M822.80,449.75 h-7 M107.70,445.69 h7 M822.80,445.69 h-7 M107.70,442.10 h7 M822.80,442.10 h-7 M107.70,438.89 h14 M822.80,438.89 h-14 M107.70,417.76 h7 M822.80,417.76 h-7 M107.70,405.41 h7 M822.80,405.41 h-7 M107.70,396.64 h7 M822.80,396.64 h-7 M107.70,389.84 h7 M822.80,389.84 h-7 M107.70,384.29 h7 M822.80,384.29 h-7 M107.70,379.59 h7 M822.80,379.59 h-7 M107.70,375.52 h7 M822.80,375.52 h-7 M107.70,371.93 h7 M822.80,371.93 h-7 M107.70,368.72 h14 M822.80,368.72 h-14 M107.70,347.60 h7 M822.80,347.60 h-7 M107.70,335.24 h7 M822.80,335.24 h-7 M107.70,326.48 h7 M822.80,326.48 h-7 M107.70,319.68 h7 M822.80,319.68 h-7 M107.70,314.12 h7 M822.80,314.12 h-7 M107.70,309.43 h7 M822.80,309.43 h-7 M107.70,305.36 h7 M822.80,305.36 h-7 M107.70,301.77 h7 M822.80,301.77 h-7 M107.70,298.56 h14 M822.80,298.56 h-14 M107.70,277.44 h7 M822.80,277.44 h-7 M107.70,265.08 h7 M822.80,265.08 h-7 M107.70,256.31 h7 M822.80,256.31 h-7 M107.70,249.51 h7 M822.80,249.51 h-7 M107.70,243.96 h7 M822.80,243.96 h-7 M107.70,239.26 h7 M822.80,239.26 h-7 M107.70,235.19 h7 M822.80,235.19 h-7 M107.70,231.60 h7 M822.80,231.60 h-7 M107.70,228.39 h14 M822.80,228.39 h-14 M107.70,207.27 h7 M822.80,207.27 h-7 M107.70,194.92 h7 M822.80,194.92 h-7 M107.70,186.15 h7 M822.80,186.15 h-7 M107.70,179.35 h7 M822.80,179.35 h-7 M107.70,173.79 h7 M822.80,173.79 h-7 M107.70,169.10 h7 M822.80,169.10 h-7 M107.70,165.03 h7 M822.80,165.03 h-7 M107.70,161.44 h7 M822.80,161.44 h-7 M107.70,158.23 h14 M822.80,158.23 h-14 M107.70,137.11 h7 M822.80,137.11 h-7 M107.70,124.75 h7 M822.80,124.75 h-7 M107.70,115.99 h7 M822.80,115.99 h-7 M107.70,109.19 h7 M822.80,109.19 h-7 M107.70,103.63 h7 M822.80,103.63 h-7 M107.70,98.93 h7 M822.80,98.93 h-7 M107.70,94.86 h7 M822.80,94.86 h-7 M107.70,91.27 h7 M822.80,91.27 h-7 M107.70,88.06 h14 M822.80,88.06 h-14 M107.70,66.94 h7 M822.80,66.94 h-7 M107.70,54.59 h7 M822.80,54.59 h-7 M107.70,45.82 h7 M822.80,45.82 h-7 M107.70,39.02 h7 M822.80,39.02 h-7 M107.70,33.47 h7 M822.80,33.47 h-7 M107.70,28.77 h7 M822.80,28.77 h-7 M107.70,24.70 h7 M822.80,24.70 h-7 M107.70,21.11 h7 M822.80,21.11 h-7 M107.70,17.90 h14 M822.80,17.90 h-14 M107.55,509.05 v-14 M107.55,17.90 v14 M196.94,509.05 v-7 M196.94,17.90 v7 M286.33,509.05 v-14 M286.33,17.90 v14 M375.71,509.05 v-7 M375.71,17.90 v7 M465.10,509.05 v-14 M465.10,17.90 v14 M554.49,509.05 v-7 M554.49,17.90 v7 M643.88,509.05 v-14 M643.88,17.90 v14 M733.26,509.05 v-7 M733.26,17.90 v7 M822.65,509.05 v-14 M822.65,17.90 v14" stroke="#000" stroke-width="1.45" fill="none"/>
<rect x="107.70" y="17.90" width="715.10" height="491.15" fill="none" stroke="#000" stroke-width="1.5"/>
<text transform="translate(102.2,525.1) scale(1.04,1.07)" text-anchor="end" font-size="28">10<tspan font-size="19.8" dy="-16.1" letter-spacing="-0.6">-1</tspan></text>
<text transform="translate(101.5,455.0) scale(1.04,1.07)" text-anchor="end" font-size="28">10<tspan font-size="19.8" dy="-16.1">0</tspan></text>
<text transform="translate(101.5,384.8) scale(1.04,1.07)" text-anchor="end" font-size="28">10<tspan font-size="19.8" dy="-16.1">1</tspan></text>
<text transform="translate(101.5,314.7) scale(1.04,1.07)" text-anchor="end" font-size="28">10<tspan font-size="19.8" dy="-16.1">2</tspan></text>
<text transform="translate(101.5,244.5) scale(1.04,1.07)" text-anchor="end" font-size="28">10<tspan font-size="19.8" dy="-16.1">3</tspan></text>
<text transform="translate(101.5,174.3) scale(1.04,1.07)" text-anchor="end" font-size="28">10<tspan font-size="19.8" dy="-16.1">4</tspan></text>
<text transform="translate(101.5,104.2) scale(1.04,1.07)" text-anchor="end" font-size="28">10<tspan font-size="19.8" dy="-16.1">5</tspan></text>
<text transform="translate(101.5,34.0) scale(1.04,1.07)" text-anchor="end" font-size="28">10<tspan font-size="19.8" dy="-16.1">6</tspan></text>
<text transform="translate(107.9,536.4) scale(1.04,1.07)" text-anchor="middle" font-size="28">-1</text>
<text transform="translate(286.6,536.4) scale(1.04,1.07)" text-anchor="middle" font-size="28">-0.5</text>
<text transform="translate(465.4,536.4) scale(1.04,1.07)" text-anchor="middle" font-size="28">0</text>
<text transform="translate(644.2,536.4) scale(1.04,1.07)" text-anchor="middle" font-size="28">0.5</text>
<text transform="translate(822.9,536.4) scale(1.04,1.07)" text-anchor="middle" font-size="28">1</text>
<text transform="translate(138.1,427.3) scale(1.03,1.06)" font-size="28.5"><tspan font-style="italic">l/n</tspan>=0.8</text>
<text transform="translate(278.2,466.3) scale(1.03,1.06)" font-size="28.5"><tspan font-style="italic">l/n</tspan>=0.5</text>
<text transform="translate(365.1,386.0) scale(1.03,1.06)" font-size="28.5"><tspan font-style="italic">l/n</tspan>=0.2</text>
<text transform="translate(500.5,376.8) scale(1.03,1.06)" font-size="28.5"><tspan font-style="italic">l/n</tspan>=0.8</text>
<text transform="translate(605.1,433.7) scale(1.03,1.06)" font-size="28.5"><tspan font-style="italic">l/n</tspan>=0.5</text>
<text transform="translate(718.2,378.1) scale(1.03,1.06)" font-size="28.5"><tspan font-style="italic">l/n</tspan>=0.2</text>
<text transform="translate(465.4,580.9) scale(1.07,1.025)" text-anchor="middle" font-size="36">&#916;<tspan font-style="italic">l</tspan>/n</text>
<text transform="translate(43.0,343.0) rotate(-90)" font-size="39">I<tspan font-size="28" dy="-23.4">(n)</tspan><tspan dy="23.4">(</tspan><tspan font-style="italic" dx="1.5">l</tspan><tspan dx="2">,</tspan><tspan font-style="italic" dx="2.5">l</tspan><tspan dx="-1.5">+</tspan><tspan dx="-2">&#916;</tspan><tspan font-style="italic">l</tspan>)</text>
</svg>
</body></html>
